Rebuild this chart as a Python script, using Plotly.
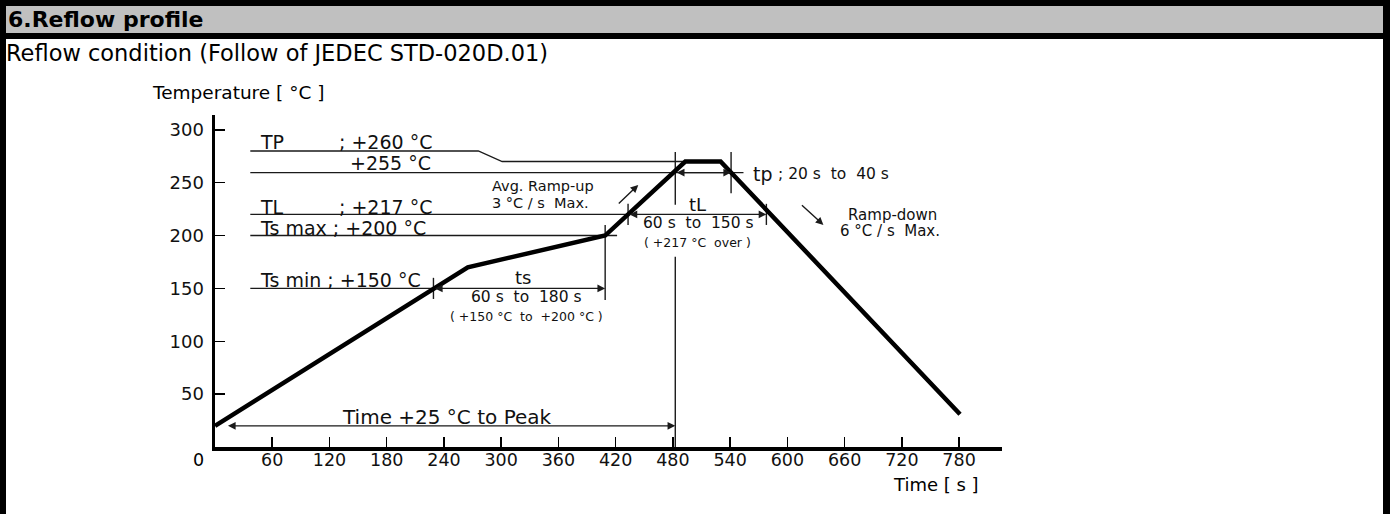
import plotly.graph_objects as go

# ---------------- data ----------------
profile_t = [0, 265, 409, 493, 530, 781]          # s
profile_T = [20, 170, 200, 270, 270, 31]          # degC

x_ticks = [60, 120, 180, 240, 300, 360, 420, 480, 540, 600, 660, 720, 780]
y_ticks = [50, 100, 150, 200, 250, 300]

# guide lines (time, temperature)
tp_line_t = [37, 276, 301, 493]
tp_line_T = [280, 280, 270, 270]
t255_line_t = [37, 554]
t255_line_T = [259.5, 259.5]
tl_line_t = [37, 433]
tl_line_T = [220, 220]
tsmax_line_t = [37, 421.5]
tsmax_line_T = [200, 200]
tsmin_line_t = [37, 229]
tsmin_line_T = [150, 150]

# vertical markers: (time, T_top, T_bottom)
markers_t = [229, 409, 433, 578, 482.5, 482.5, 541]
markers_top = [160, 210, 230, 230, 279, 180, 279]
markers_bot = [140, 139, 210, 210, 229, 0, 240]

# double arrows: (t_start, t_end, T)
darrow_t0 = [229, 433, 482.5, 12]
darrow_t1 = [409, 578, 541, 482.5]
darrow_T = [150, 220, 259.5, 20]

# single arrows (from -> to)
ramp_up_from = (421.7, 228.9)
ramp_up_to = (443.7, 247.9)
ramp_down_from = (613.7, 229.9)
ramp_down_to = (637.8, 210.0)

FONT = "DejaVu Sans"
W, H = 1392, 514

fig = go.Figure()

def guide(t, T, width=1.4):
    fig.add_trace(go.Scatter(x=t, y=T, mode="lines",
                             line=dict(color="#1a1a1a", width=width),
                             hoverinfo="skip", showlegend=False, cliponaxis=False))

guide(tp_line_t, tp_line_T)
guide(t255_line_t, t255_line_T)
guide(tl_line_t, tl_line_T)
guide(tsmax_line_t, tsmax_line_T)
guide(tsmin_line_t, tsmin_line_T)
for t, a, b in zip(markers_t, markers_top, markers_bot):
    guide([t, t], [a, b])

# profile curve
fig.add_trace(go.Scatter(x=profile_t, y=profile_T, mode="lines",
                         line=dict(color="black", width=4.5),
                         hoverinfo="skip", showlegend=False, cliponaxis=False))

# arrows
for t0, t1, T in zip(darrow_t0, darrow_t1, darrow_T):
    fig.add_annotation(x=t1, y=T, ax=t0, ay=T, xref="x", yref="y", axref="x", ayref="y",
                       text="", showarrow=True, arrowhead=2, arrowside="end+start",
                       arrowsize=1.1, arrowwidth=1.4, arrowcolor="#1a1a1a")
for (f, t) in [(ramp_up_from, ramp_up_to), (ramp_down_from, ramp_down_to)]:
    fig.add_annotation(x=t[0], y=t[1], ax=f[0], ay=f[1], xref="x", yref="y", axref="x", ayref="y",
                       text="", showarrow=True, arrowhead=2, arrowsize=1.1,
                       arrowwidth=1.4, arrowcolor="#1a1a1a")

def label(text, t, T, size, anchor="left"):
    fig.add_annotation(x=t, y=T, xref="x", yref="y", text=text, showarrow=False,
                       xanchor=anchor, yanchor="middle",
                       font=dict(family=FONT, size=size, color="#111"))

label("TP", 45, 288.5, 19)
label("; +260 °C", 128, 288.5, 19)
label("+255 °C", 139.5, 268.2, 19)
label("TL", 45, 227, 19)
label("; +217 °C", 128, 227, 19)
label("Ts max ; +200 °C", 45, 207, 19)
label("Ts min ; +150 °C", 45, 158, 19)
label("ts", 323, 160, 18, "center")
label("60 s  to  180 s", 327, 142, 15.5, "center")
label("( +150 °C  to  +200 °C )", 327, 123, 12.5, "center")
label("Avg. Ramp-up", 288.5, 246.5, 14.5)
label("3 °C / s  Max.", 288.5, 231, 14.5)
label("tp", 562, 258.3, 19)
label("; 20 s  to  40 s", 588, 258.3, 15.5)
label("tL", 505.6, 229, 18, "center")
label("60 s  to  150 s", 506.7, 211.5, 15.5, "center")
label("( +217 °C  over )", 505.6, 193, 12.5, "center")
label("Ramp-down", 710, 219, 15, "center")
label("6 °C / s  Max.", 708, 204, 15, "center")
label("Time +25 °C to Peak", 243, 28.4, 20, "center")

def px(x):
    return x / W

def py(y):
    return 1 - y / H

def ptext(text, x, y, size, anchor="left", bold=False):
    fig.add_annotation(x=px(x), y=py(y), xref="paper", yref="paper", text=text,
                       showarrow=False, xanchor=anchor, yanchor="middle",
                       font=dict(family=FONT, size=size, color="black",
                                 weight="bold" if bold else "normal"))

# frame
def prect(x0, y0, x1, y1, color):
    fig.add_shape(type="rect", xref="paper", yref="paper",
                  x0=px(x0), x1=px(x1), y0=py(y1), y1=py(y0),
                  line=dict(width=0), fillcolor=color, layer="below")

prect(0, 0, 1390, 37, "#c0c0c0")
prect(0, 0, 1390, 6, "black")
prect(0, 33, 1390, 39, "black")
prect(0, 0, 6, 514, "black")
prect(1383, 0, 1390, 514, "black")

ptext("6.Reflow profile", 6, 20, 22, bold=True)
ptext("Reflow condition (Follow of JEDEC STD-020D.01)", 4, 53, 22.5)
ptext("Temperature [ °C ]", 150, 92, 18.5)
ptext("Time [ s ]", 891, 484, 18)
ptext("0", 198, 460, 17.5, "center")

fig.update_layout(
    width=W, height=H, margin=dict(l=0, r=0, t=0, b=0),
    paper_bgcolor="white", plot_bgcolor="white", showlegend=False,
    xaxis=dict(domain=[215 / W, 1002 / W], range=[0, 825], showgrid=False, zeroline=False,
               showline=True, linecolor="black", linewidth=3.5,
               ticks="inside", ticklen=10, tickwidth=1.5, tickcolor="black",
               tickvals=x_ticks, ticktext=[str(v) for v in x_ticks], ticklabelstandoff=-6,
               tickfont=dict(family=FONT, size=17.5, color="#111"), fixedrange=True),
    yaxis=dict(domain=[1 - 447 / H, 1 - 115 / H], range=[0, 314], showgrid=False, zeroline=False,
               showline=True, linecolor="black", linewidth=3.5,
               ticks="inside", ticklen=10, tickwidth=1.5, tickcolor="black",
               tickvals=y_ticks, ticktext=[str(v) for v in y_ticks], ticklabelstandoff=4,
               tickfont=dict(family=FONT, size=18, color="#111"), fixedrange=True),
)

fig.write_html("out.html", config={"displayModeBar": False, "staticPlot": True},
               post_script="document.body.style.margin='0px';document.body.style.overflow='hidden';")
